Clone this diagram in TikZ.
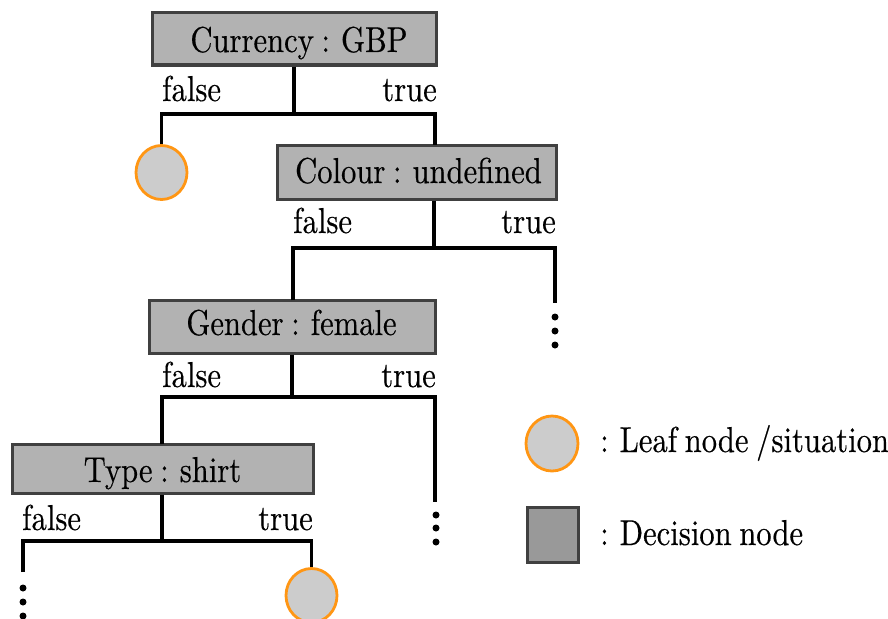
\documentclass[tikz,border=0pt]{standalone}
\usepackage{fontspec}
\setmainfont{lmroman10-regular.otf}[FakeStretch=0.85, FakeBold=0.4, WordSpace=0.75]
\usetikzlibrary{shapes.geometric}
\begin{document}
\begin{tikzpicture}[x=1pt,y=-1pt,
  decision/.style={draw=boxline, fill=decfill, line width=3pt, inner sep=0pt},
  legsquare/.style={draw=boxline, fill=legfill, line width=3pt, inner sep=0pt},
  leaf/.style={ellipse, draw=leafline, fill=leaffill, line width=2.8pt, inner sep=0pt,
               minimum width=51pt, minimum height=54pt},
  txt/.style={inner sep=0pt, font=\fontsize{36}{42}\selectfont},
  conn/.style={line width=3.4pt, black},
  more/.style={circle, fill=black, inner sep=0pt, minimum size=7pt}
]
\useasboundingbox (0,0) rectangle (888,618);
\colorlet{boxline}{black!75}
\definecolor{decfill}{gray}{0.70}
\definecolor{legfill}{gray}{0.60}
\definecolor{leaffill}{gray}{0.80}
\definecolor{leafline}{RGB}{255,150,20}

% decision nodes
\node[decision, minimum width=284pt, minimum height=52pt] (cur) at (294,39) {};
\node[txt, anchor=base] (curT) at (299,52) {Currency : GBP};
\node[decision, minimum width=279pt, minimum height=54pt] (col) at (416.5,172) {};
\node[txt, anchor=base] (colT) at (418.5,183) {Colour : undefined};
\node[decision, minimum width=286pt, minimum height=53pt] (gen) at (292,326.5) {};
\node[txt, anchor=base] (genT) at (291.5,335) {Gender : female};
\node[decision, minimum width=301pt, minimum height=49pt] (typ) at (162.5,468.5) {};
\node[txt, anchor=base] (typT) at (162.5,482) {Type : shirt};

% leaf nodes
\node[leaf] (leafA) at (161.5,172.5) {};
\node[leaf] (leafB) at (311.5,595.5) {};

% branch junctions and attachment points
\coordinate (j1) at (294,114);
\coordinate (colTop) at (435,145);
\coordinate (j2) at (434,248);
\coordinate (genTop) at (293,300);
\coordinate (colEnd) at (555,303);
\coordinate (j3) at (292,397);
\coordinate (typTop) at (162,444);
\coordinate (genEnd) at (435,502);
\coordinate (j4) at (162,541);
\coordinate (typEnd) at (23,572);

% connectors
\draw[conn] (cur.south -| j1) -- (j1);
\draw[conn] (leafA.north) |- (j1) -| (colTop);
\draw[conn] (col.south -| j2) -- (j2);
\draw[conn] (genTop) |- (j2) -| (colEnd);
\draw[conn] (gen.south -| j3) -- (j3);
\draw[conn] (typTop) |- (j3) -| (genEnd);
\draw[conn] (typ.south -| j4) -- (j4);
\draw[conn] (typEnd) |- (j4) -| (leafB.north);

% branch labels
\node[txt, anchor=base west] (f1) at (162,101) {false};
\node[txt, anchor=base east] (t1) at (437,101) {true};
\node[txt, anchor=base west] (f2) at (293,233) {false};
\node[txt, anchor=base east] (t2) at (556,233) {true};
\node[txt, anchor=base west] (f3) at (162,387) {false};
\node[txt, anchor=base east] (t3) at (436,387) {true};
\node[txt, anchor=base west] (f4) at (22,530) {false};
\node[txt, anchor=base east] (t4) at (313,530) {true};

% continuation dots
\foreach \y [count=\i] in {317,331,345} \node[more] (dc\i) at (555,\y) {};
\foreach \y [count=\i] in {515,528,542} \node[more] (dg\i) at (436,\y) {};
\foreach \y [count=\i] in {588,602,616} \node[more] (dt\i) at (23,\y) {};

% legend
\node[leaf, minimum width=52pt, minimum height=55pt] (legLeaf) at (552,443.5) {};
\node[txt, anchor=base west] (legLeafT) at (600,452) {: Leaf node /situation};
\node[legsquare, minimum width=51pt, minimum height=55pt] (legDec) at (552.5,534.5) {};
\node[txt, anchor=base west] (legDecT) at (600,545) {: Decision node};
\end{tikzpicture}
\end{document}
